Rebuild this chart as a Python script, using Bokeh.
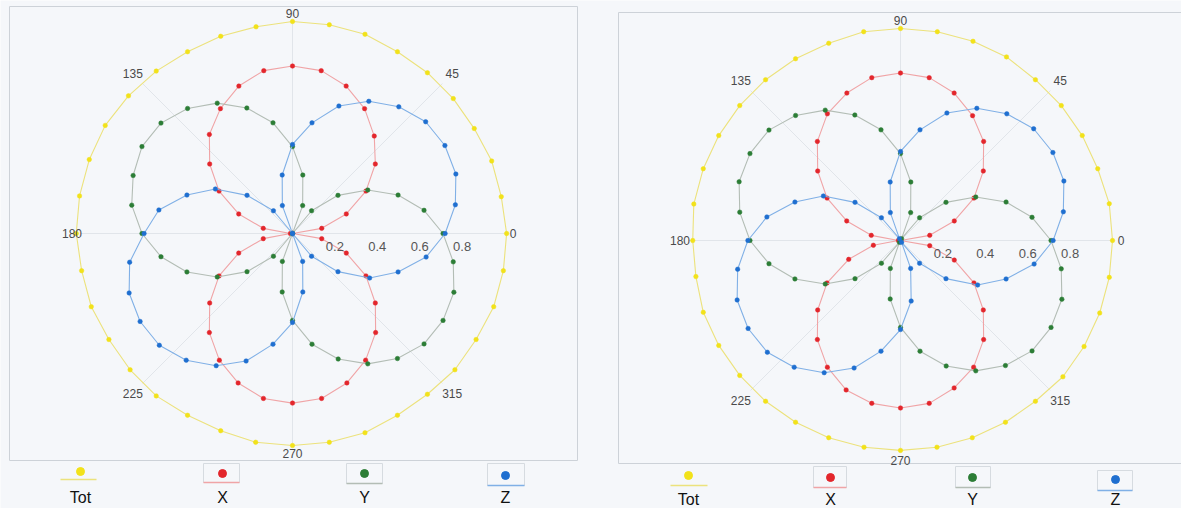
import numpy as np
from bokeh.plotting import figure
from bokeh.models import Range1d
from bokeh.core.properties import value
from bokeh.embed import file_html
from bokeh.resources import INLINE

# ---------------- data ----------------
angles = [0, 10, 20, 30, 40, 50, 60, 70, 80, 90, 100, 110, 120, 130, 140, 150, 160, 170,
          180, 190, 200, 210, 220, 230, 240, 250, 260, 270, 280, 290, 300, 310, 320, 330, 340, 350]

angle_ticks = [0, 45, 90, 135, 180, 225, 270, 315]
radial_ticks = [0.2, 0.4, 0.6, 0.8]
series_names = ["Tot", "X", "Y", "Z"]

# panel 1 (left)
tot_1 = [1.01, 1.00, 1.00, 0.99, 0.99, 0.99, 0.99, 1.00, 1.00, 1.00, 0.99, 0.99,
         0.99, 1.00, 1.01, 1.02, 1.02, 1.02, 1.02, 1.01, 1.01, 1.00, 1.00, 1.00,
         0.99, 0.99, 1.00, 1.00, 1.00, 1.00, 0.99, 0.99, 1.00, 1.00, 1.01, 1.01]
x_1 = [0.00, 0.14, 0.27, 0.40, 0.51, 0.60, 0.68, 0.74, 0.78, 0.79, 0.78, 0.74,
       0.68, 0.61, 0.51, 0.40, 0.27, 0.14, 0.01, 0.14, 0.27, 0.40, 0.51, 0.61,
       0.69, 0.75, 0.79, 0.80, 0.79, 0.75, 0.69, 0.61, 0.51, 0.40, 0.27, 0.14]
y_1 = [0.71, 0.63, 0.53, 0.41, 0.28, 0.14, 0.00, 0.14, 0.28, 0.41, 0.53, 0.63,
       0.71, 0.77, 0.81, 0.82, 0.80, 0.77, 0.71, 0.63, 0.53, 0.41, 0.28, 0.14,
       0.00, 0.14, 0.28, 0.41, 0.53, 0.63, 0.71, 0.77, 0.81, 0.82, 0.81, 0.77]
z_1 = [0.72, 0.78, 0.82, 0.83, 0.82, 0.78, 0.72, 0.64, 0.53, 0.42, 0.28, 0.14,
       0.00, 0.14, 0.28, 0.42, 0.53, 0.64, 0.70, 0.78, 0.82, 0.83, 0.82, 0.78,
       0.72, 0.64, 0.53, 0.42, 0.28, 0.14, 0.00, 0.14, 0.28, 0.42, 0.53, 0.64]

# panel 2 (right)
tot_2 = [1.00, 1.00, 0.99, 0.99, 0.99, 0.99, 1.00, 1.00, 1.00, 1.00, 1.00, 0.99,
         0.99, 0.99, 0.99, 0.99, 0.99, 0.99, 0.98, 0.98, 0.99, 0.99, 0.99, 0.99,
         0.99, 0.99, 0.99, 0.99, 0.99, 0.99, 0.99, 0.99, 1.00, 1.00, 1.00, 1.00]
x_2 = [0.00, 0.14, 0.27, 0.40, 0.51, 0.61, 0.68, 0.74, 0.78, 0.79, 0.78, 0.74,
       0.69, 0.61, 0.51, 0.40, 0.27, 0.14, 0.01, 0.13, 0.26, 0.40, 0.51, 0.61,
       0.69, 0.75, 0.78, 0.79, 0.78, 0.74, 0.69, 0.61, 0.51, 0.40, 0.27, 0.14]
y_2 = [0.71, 0.63, 0.53, 0.41, 0.28, 0.14, 0.01, 0.14, 0.28, 0.41, 0.53, 0.63,
       0.71, 0.77, 0.81, 0.82, 0.81, 0.77, 0.71, 0.63, 0.53, 0.41, 0.28, 0.14,
       0.01, 0.14, 0.28, 0.41, 0.53, 0.63, 0.71, 0.77, 0.81, 0.82, 0.81, 0.77]
z_2 = [0.72, 0.78, 0.82, 0.83, 0.82, 0.78, 0.72, 0.64, 0.53, 0.42, 0.28, 0.14,
       0.01, 0.14, 0.28, 0.42, 0.53, 0.64, 0.72, 0.78, 0.82, 0.83, 0.82, 0.78,
       0.72, 0.64, 0.53, 0.42, 0.29, 0.14, 0.01, 0.14, 0.28, 0.42, 0.53, 0.64]

# ---------------- styling / layout ----------------
W, H = 1181, 508          # figure size (rendered at the page's top-left corner)
OFF = 0                   # page offset of the figure
S = 212.0                 # pixels per unit radius
C1 = (292.0, 233.0)       # panel centres, page pixels
C2 = (900.0, 240.0)

def dx(px):
    return (px - C1[0]) / S

def dy(py):
    return (C1[1] - py) / S

FONT = value("Liberation Sans")
marker_col = {"Tot": "#f2e21a", "X": "#e3262c", "Y": "#2c7d36", "Z": "#1f6fd0"}
line_col = {"Tot": "#ece27c", "X": "#f0a4a6", "Y": "#b3bdb5", "Z": "#80b0e6"}
BG = "#f5f7fa"

p = figure(width=W, height=H, output_backend="svg", toolbar_location=None,
           x_range=Range1d(dx(OFF), dx(OFF + W)), y_range=Range1d(dy(OFF + H), dy(OFF)),
           min_border=0, x_axis_location=None, y_axis_location=None,
           background_fill_color=BG, border_fill_color=BG, outline_line_color=None)
p.grid.visible = False

# frames
p.quad(left=[dx(9), dx(618)], right=[dx(577), dx(1200)],
       top=[dy(6), dy(12)], bottom=[dy(460), dy(463)],
       fill_color=None, line_color="#cdd2d8", line_width=1)

panels = [
    (C1, {"Tot": tot_1, "X": x_1, "Y": y_1, "Z": z_1},
     [80, 222, 364, 505], [471, 473, 473, 475], 497,
     [(60, 96, 463, 479), (203, 239, 463, 482), (346, 382, 463, 483), (487, 524, 463, 485)]),
    (C2, {"Tot": tot_2, "X": x_2, "Y": y_2, "Z": z_2},
     [688, 830, 972, 1115], [475, 477, 477, 479], 499,
     [(670, 707, 468, 485), (813, 846, 466, 487), (955, 990, 466, 487), (1097, 1132, 470, 490)]),
]

th = np.deg2rad(np.array(angles + [angles[0]], dtype=float))

for (cpx, cpy), data, lx, ly, ty, boxes in panels:
    ox, oy = dx(cpx), dy(cpy)
    # faint spokes
    ta = np.deg2rad(np.array(angle_ticks, dtype=float))
    p.segment(x0=[ox] * len(ta), y0=[oy] * len(ta), x1=ox + np.cos(ta), y1=oy + np.sin(ta),
              line_color="#e1e5ea", line_width=1)
    # series
    for name in ["Tot", "X", "Y", "Z"]:
        r = np.array(data[name] + [data[name][0]], dtype=float)
        xs = ox + r * np.cos(th)
        ys = oy + r * np.sin(th)
        p.line(xs, ys, line_color=line_col[name], line_width=1.1)
        p.scatter(xs[:-1], ys[:-1], size=4.5, fill_color=marker_col[name],
                  line_color=marker_col[name], line_alpha=0.5)
    # angle labels
    lab_r = [1.04 if a % 90 == 0 else 1.065 for a in angle_ticks]
    p.text(x=[ox + rr * np.cos(np.deg2rad(a)) for a, rr in zip(angle_ticks, lab_r)],
           y=[oy + rr * np.sin(np.deg2rad(a)) for a, rr in zip(angle_ticks, lab_r)],
           text=[str(a) for a in angle_ticks], text_align="center", text_baseline="middle",
           text_font=FONT, text_font_size="12px", text_color="#4a4a4a")
    # radial labels
    p.text(x=[ox + v for v in radial_ticks], y=[oy - 13 / S] * len(radial_ticks),
           text=[f"{v:.1f}" for v in radial_ticks], text_align="center", text_baseline="middle",
           text_font=FONT, text_font_size="13px", text_color="#555555")
    # legend
    for i, name in enumerate(series_names):
        x0, x1, y0, y1 = boxes[i]
        if name != "Tot":
            p.quad(left=[dx(x0)], right=[dx(x1)], top=[dy(y0)], bottom=[dy(y1)],
                   fill_color=None, line_color="#d6dbe0", line_width=1)
        p.segment(x0=[dx(x0)], y0=[dy(y1)], x1=[dx(x1)], y1=[dy(y1)],
                  line_color=line_col[name], line_width=1.3)
        p.scatter([dx(lx[i])], [dy(ly[i])], size=8, fill_color=marker_col[name],
                  line_color=marker_col[name])
        p.text(x=[dx(lx[i])], y=[dy(ty)], text=[name], text_align="center",
               text_baseline="alphabetic", text_font=FONT, text_font_size="16px",
               text_color="#111111")

open("out.html", "w").write(file_html(p, INLINE))
